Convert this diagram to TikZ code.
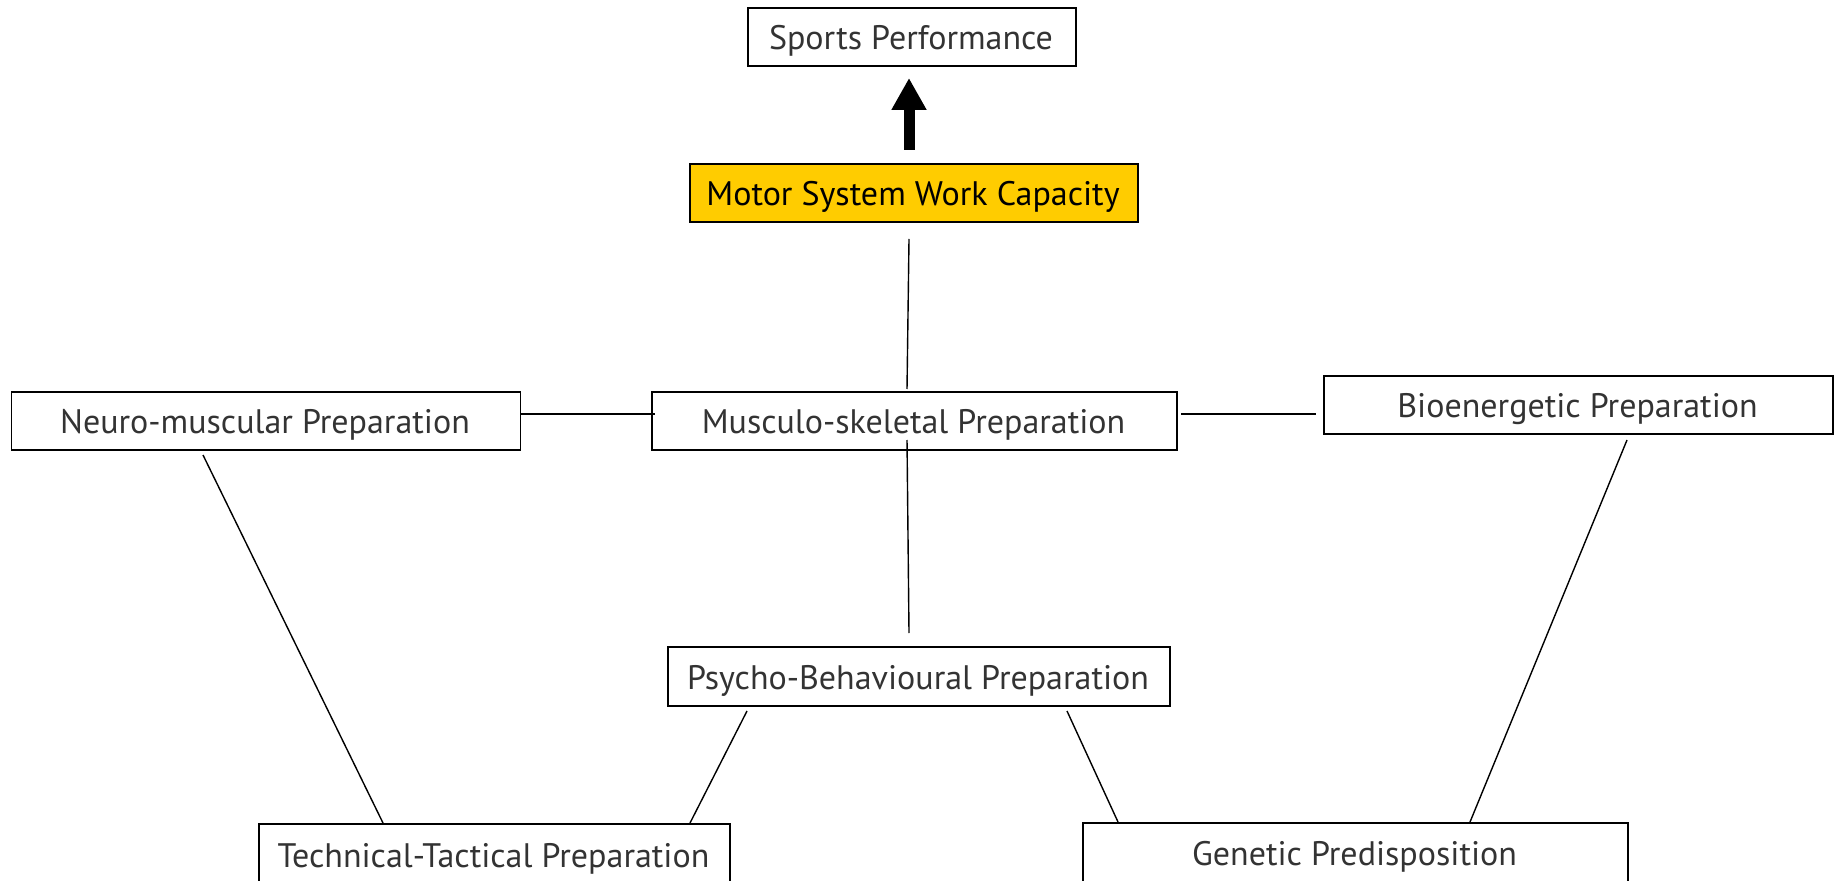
\documentclass[tikz,border=0pt]{standalone}
\usepackage{fontspec}
\setmainfont{PT Sans}
\usetikzlibrary{arrows.meta}
\definecolor{txt}{HTML}{333333}
\definecolor{gold}{HTML}{FFCC00}
\tikzset{
  box/.style={draw=black,line width=0.8pt,rectangle,inner sep=0pt,anchor=north west},
  lbl/.style={font=\fontsize{17}{19}\selectfont,text=txt,yshift=-1.5pt},
  link/.style={draw=black,line width=0.7pt},
}
\begin{document}
\begin{tikzpicture}[x=0.5pt,y=-0.5pt]
\useasboundingbox (0,0) rectangle (1839,881);
\begin{scope}
\clip (0,0) rectangle (1839,881);
\node[box,minimum width=164pt,minimum height=29pt] (sports) at (747,7) {};
\node[lbl] (sportst) at (911,38) {Sports Performance};
\node[box,fill=gold,minimum width=224pt,minimum height=29pt] (motor) at (689,163) {};
\node[lbl,text=black] (motort) at (913,194) {Motor System Work Capacity};
\node[box,minimum width=254.5pt,minimum height=29pt] (neuro) at (10.5,391) {};
\node[lbl] (neurot) at (265,422) {Neuro-muscular Preparation};
\node[box,minimum width=262.5pt,minimum height=29pt] (musc) at (651,391) {};
\node[lbl] (musct) at (913.5,422) {Musculo-skeletal Preparation};
\node[box,minimum width=254.5pt,minimum height=29pt] (bio) at (1323,375) {};
\node[lbl] (biot) at (1577.5,406) {Bioenergetic Preparation};
\node[box,minimum width=251pt,minimum height=29.5pt] (psy) at (667,646) {};
\node[lbl] (psyt) at (918,678) {Psycho-Behavioural Preparation};
\node[box,minimum width=235.5pt,minimum height=40pt] (tech) at (258,823) {};
\node[lbl] (techt) at (493.5,856) {Technical-Tactical Preparation};
\node[box,minimum width=272.5pt,minimum height=40pt] (gen) at (1082,822) {};
\node[lbl] (gent) at (1354.5,854) {Genetic Predisposition};
\end{scope}
% arrow
\coordinate (a1) at (909,150);
\coordinate (a2) at (909,78);
\draw[line width=5.5pt,-{Triangle[length=16pt,width=16.5pt]}] (a1) -- (a2);
% connector endpoints
\coordinate (m1) at (909,239);
\coordinate (m2) at (907,389);
\coordinate (n1) at (520,414);
\coordinate (n2) at (655,414);
\coordinate (b1) at (1181,414);
\coordinate (b2) at (1316,414);
\coordinate (p1) at (907,440);
\coordinate (p2) at (909,633);
\coordinate (t1) at (203,455);
\coordinate (t2) at (383,823);
\coordinate (pt1) at (747,711);
\coordinate (pt2) at (690,823);
\coordinate (pg1) at (1067,711);
\coordinate (pg2) at (1118,822);
\coordinate (bg1) at (1627,440);
\coordinate (bg2) at (1470,822);
\draw[link] (m1) -- (m2);
\draw[link] (n1) -- (n2);
\draw[link] (b1) -- (b2);
\draw[link] (p1) -- (p2);
\draw[link] (t1) -- (t2);
\draw[link] (pt1) -- (pt2);
\draw[link] (pg1) -- (pg2);
\draw[link] (bg1) -- (bg2);
\end{tikzpicture}
\end{document}
